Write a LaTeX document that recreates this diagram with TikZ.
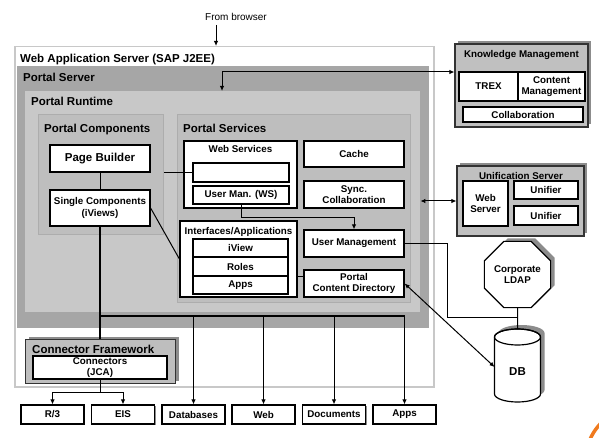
\documentclass[tikz,border=0pt]{standalone}
\usepackage{fontspec}
\setmainfont{Liberation Sans}
\usetikzlibrary{shapes.geometric,shadows,arrows.meta}
\definecolor{wasline}{HTML}{C8C8C8}
\definecolor{psrv}{HTML}{A6A6A6}
\definecolor{prt}{HTML}{C8C8C8}
\definecolor{pcs}{HTML}{BEBEBE}
\definecolor{pcsedge}{HTML}{ADADAD}
\definecolor{extgray}{HTML}{C0C0C0}
\definecolor{shadowgray}{HTML}{8C8C8C}
\definecolor{accent}{HTML}{F07A1E}
\begin{document}
\begin{tikzpicture}[x=1pt,y=-1pt,
  big/.style={font=\bfseries\fontsize{11.5}{13}\selectfont},
  sm/.style={font=\bfseries\fontsize{9.8}{11.5}\selectfont},
  lbl/.style={inner sep=0pt, anchor=base west, big},
  sublbl/.style={inner sep=0pt, anchor=base, sm},
  wbox/.style={draw=black, line width=1.2pt, fill=white, sm, align=center, inner sep=0pt,
     drop shadow={shadow xshift=1pt, shadow yshift=-1pt, opacity=1, fill=black!45}},
  cont/.style={inner sep=0pt, anchor=north west},
  extbox/.style={draw=black!80, line width=1.2pt, fill=extgray, inner sep=0pt,
     drop shadow={shadow xshift=3pt, shadow yshift=3pt, opacity=1, fill=shadowgray}},
  link/.style={draw=black, line width=1pt},
  arr/.style={link, -{Latex[length=5pt,width=4.5pt]}},
  arrs/.style={link, {Latex[length=5pt,width=4.5pt]}-{Latex[length=5pt,width=4.5pt]}},
  bus/.style={draw=black, line width=1.8pt},
]
\useasboundingbox (0,0) rectangle (599,438);

% containers
\node[cont, draw=wasline, line width=1.5pt, fill=white, minimum width=419pt, minimum height=340pt] (was) at (14,46) {};
\node[cont, fill=psrv, minimum width=412pt, minimum height=262pt] (ps) at (17,66) {};
\node[cont, fill=prt, minimum width=395pt, minimum height=221pt] (prt) at (25,91) {};
\node[cont, fill=pcs, draw=pcsedge, line width=1.2pt, minimum width=125pt, minimum height=120pt] (pc) at (38,114) {};
\node[cont, fill=pcs, draw=pcsedge, line width=1.2pt, minimum width=233pt, minimum height=188pt] (psv) at (177,114) {};

\node[lbl] (wasT) at (20,62.5) {Web Application Server (SAP J2EE)};
\node[lbl] (psT) at (23,82) {Portal Server};
\node[lbl] (prtT) at (31,105.5) {Portal Runtime};
\node[lbl] (pcT) at (44,133) {Portal Components};
\node[lbl] (psvT) at (183,133) {Portal Services};

% portal components
\node[wbox, big, minimum width=100pt, minimum height=27pt] (pb) at (100,158.5) {Page Builder};
\node[wbox, minimum width=100pt, minimum height=36pt] (sc) at (100,208) {Single Components\\(iViews)};

% portal services
\node[wbox, minimum width=113pt, minimum height=67pt] (ws) at (240.5,174.5) {};
\node[sublbl] (wsT) at (240.5,153) {Web Services};
\node[wbox, minimum width=96pt, minimum height=19pt] (ws0) at (241,172.5) {};
\node[wbox, minimum width=96pt, minimum height=18pt] (umws) at (241,195) {User Man. (WS)};
\node[wbox, minimum width=100pt, minimum height=26pt] (cache) at (354,154) {Cache};
\node[wbox, minimum width=100pt, minimum height=27pt] (sync) at (354,194.5) {Sync.\\Collaboration};
\node[wbox, minimum width=117pt, minimum height=76pt] (ia) at (238.5,259) {};
\node[sublbl] (iaT) at (238.5,234.5) {Interfaces/Applications};
\node[wbox, minimum width=95pt, minimum height=18pt] (iview) at (240.5,248) {iView};
\node[wbox, minimum width=95pt, minimum height=19pt] (roles) at (240.5,266.5) {Roles};
\node[wbox, minimum width=95pt, minimum height=18pt] (apps) at (240.5,285) {Apps};
\node[wbox, minimum width=100pt, minimum height=27pt] (um) at (354,243.5) {User Management};
\node[wbox, minimum width=100pt, minimum height=27pt] (pcd) at (354,283.5) {Portal\\Content Directory};

% connector framework
\node[cont, extbox, fill=pcs, minimum width=150pt, minimum height=44pt] (cf) at (25,339) {};
\node[lbl] (cfT) at (32,353) {Connector Framework};
\node[wbox, minimum width=134pt, minimum height=23pt, font=\bfseries\fontsize{9.8}{10.5}\selectfont] (jca) at (100,367.5) {Connectors\\(JCA)};

% bottom targets
\node[wbox, minimum width=63pt, minimum height=19pt] (r3) at (52.5,414.5) {R/3};
\node[wbox, minimum width=63pt, minimum height=19pt] (eis) at (123,414.5) {EIS};
\node[wbox, minimum width=63pt, minimum height=19pt] (dbs) at (193.5,414.5) {Databases};
\node[wbox, minimum width=63pt, minimum height=19pt] (web) at (263.5,414.5) {Web};
\node[wbox, minimum width=63pt, minimum height=19pt] (docs) at (334,414.5) {Documents};
\node[wbox, minimum width=63pt, minimum height=19pt] (appsb) at (404.5,414.5) {Apps};

% knowledge management
\node[extbox, minimum width=133pt, minimum height=83pt] (km) at (521.5,85.5) {};
\node[sublbl] (kmT) at (521.5,57.5) {Knowledge Management};
\node[wbox, minimum width=59pt, minimum height=29pt] (trex) at (488.5,86.5) {TREX};
\node[wbox, minimum width=67pt, minimum height=29pt] (cm) at (551.5,86.5) {Content\\Management};
\node[wbox, minimum width=120pt, minimum height=15pt] (coll) at (523,114.5) {Collaboration};

% unification server
\node[extbox, minimum width=127pt, minimum height=70pt] (us) at (520.5,201) {};
\node[sublbl] (usT) at (521,179.5) {Unification Server};
\node[wbox, minimum width=45pt, minimum height=45pt] (wsrv) at (485.5,203.5) {Web\\Server};
\node[wbox, minimum width=64pt, minimum height=18pt] (uf1) at (546,190) {Unifier};
\node[wbox, minimum width=64pt, minimum height=19pt] (uf2) at (546,215.5) {Unifier};

% corporate LDAP
\node[regular polygon, regular polygon sides=8, minimum size=61pt, draw=black, line width=1.2pt, fill=white,
      sm, align=center, inner sep=0pt,
      drop shadow={shadow xshift=4pt, shadow yshift=3pt, opacity=1, fill=shadowgray}] (ldap) at (517.5,274.5) {Corporate\\LDAP};

% DB cylinder
\fill[shadowgray] (498.5,333) -- (498.5,390) arc(180:0:23 and 8) -- (544.5,333) arc(0:-180:23 and 8) -- cycle;
\filldraw[fill=white, draw=black, line width=1.2pt] (494.5,337) -- (494.5,394) arc(180:0:23 and 8) -- (540.5,337) arc(0:-180:23 and 8) -- cycle;
\draw[black, line width=1.2pt] (517.5,337) ellipse (23 and 8);
\node[big, inner sep=0pt] (db) at (517.5,372) {DB};
\coordinate (dbtop) at (517.5,329);
\coordinate (dbleft) at (494.5,367);

% connectors
\coordinate (fbarrow) at (216,25);
\node[inner sep=0pt, anchor=base, font=\fontsize{10}{12}\selectfont] (fb) at (236,20.5) {From browser};
\draw[arr] (fbarrow) -- (fbarrow |- was.north);

\coordinate (kmcorner) at (222,72);
\draw[arrs] (kmcorner |- prt.north) -- (kmcorner) -- (kmcorner -| km.west);
\draw[arrs] (us.west -| prt.east) -- (us.west);

\draw[link] (pb.south) -- (sc.north);
\draw[link] (pc.east |- ws0.west) -- (ws0.west);
\draw[link] (sc.east) -- (ia.west);
\draw[arr] (umws.south) -- ++(0,13) -| (um.north);
\draw[link] (roles.south -| ia.east) -- (roles.south -| pcd.west);

\coordinate (bus) at (100,316);
\draw[bus] (sc.south) -- (sc.south |- cf.north);
\draw[bus] (bus) -- (bus -| appsb.north);
\draw[arr] (bus -| dbs.north) -- (dbs.north);
\draw[arr] (bus -| web.north) -- (web.north);
\draw[arr] (bus -| docs.north) -- (docs.north);
\draw[arr] (bus -| appsb.north) -- (appsb.north);

\coordinate (split) at (100,392);
\draw[link] (jca.south) -- (split);
\draw[arr] (split) -| (r3.north);
\draw[arr] (split) -| (eis.north);

\coordinate (umcorner) at (447,317);
\draw[link] (um.east) -| (umcorner) -- (umcorner -| ldap.south);
\draw[link] (ldap.south) -- (dbtop);
\draw[arrs] (pcd.east) -- (dbleft);

% slide accent
\begin{scope}
\clip (0,0) rectangle (599,438);
\draw[accent, line width=3.5pt] (589,442) .. controls (592,434) and (596,428) .. (603,421);
\end{scope}
\end{tikzpicture}
\end{document}
